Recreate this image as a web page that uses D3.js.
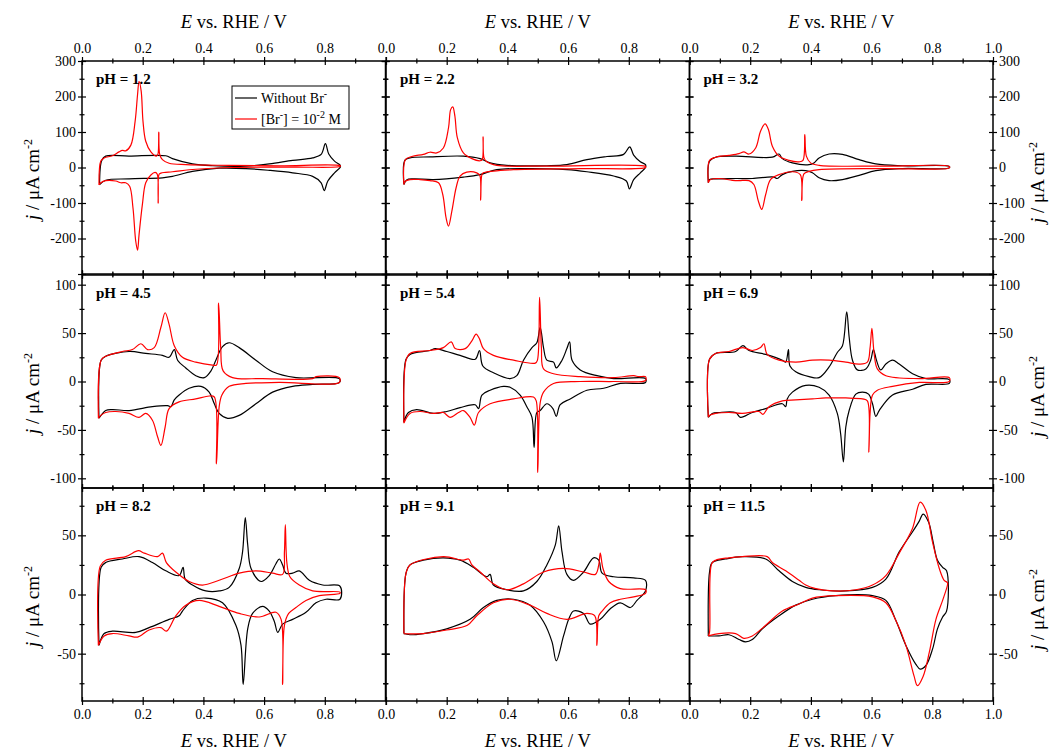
<!DOCTYPE html>
<html>
<head>
<meta charset="utf-8">
<script src="https://cdn.jsdelivr.net/npm/d3@7"></script>
<style>
  body { margin: 0; background: #fff; }
  svg text { font-family: "Liberation Serif", "Times New Roman", serif; fill: #000; }
</style>
</head>
<body>
<div id="chart"></div>
<script>
// CV data: [E (V vs RHE), j (uA cm-2)], anodic sweep then cathodic sweep
var pH12_noBr = [[0.058,-48],[0.065,20],[0.078,32],[0.155,32],[0.276,33],[0.298,25],[0.364,10],[0.43,5],[0.54,4],[0.617,10],[0.694,20],[0.76,27],[0.788,37],[0.802,67],[0.813,38],[0.832,18],[0.851,6],
  [0.851,1],[0.832,-15],[0.81,-38],[0.798,-65],[0.788,-43],[0.76,-25],[0.694,-15],[0.617,-8],[0.54,-3],[0.452,-2],[0.364,-11],[0.298,-25],[0.265,-29],[0.155,-32],[0.078,-36],[0.058,-48]];
var pH12_Br = [[0.056,-49],[0.062,18],[0.073,27],[0.1,33],[0.122,44],[0.133,48],[0.144,47],[0.161,63],[0.175,130],[0.183,205],[0.188,243],[0.195,215],[0.201,130],[0.21,74],[0.227,44],[0.245,32],[0.25,37],[0.253,100],[0.256,37],[0.265,22],[0.287,12],[0.342,8],[0.485,6],[0.65,5],[0.851,5],
  [0.851,3],[0.7,1],[0.5,0],[0.375,-5],[0.298,-12],[0.27,-14],[0.26,-16],[0.254,-19],[0.251,-100],[0.248,-19],[0.241,-14],[0.227,-21],[0.21,-43],[0.199,-104],[0.188,-189],[0.183,-233],[0.177,-207],[0.168,-114],[0.157,-53],[0.144,-43],[0.128,-43],[0.111,-38],[0.078,-37],[0.062,-43],[0.056,-49]];

var pH22_noBr = [[0.059,-48],[0.062,20],[0.079,27],[0.145,30],[0.255,32],[0.31,25],[0.343,13],[0.398,6],[0.53,5],[0.596,8],[0.662,22],[0.728,31],[0.783,37],[0.803,58],[0.816,35],[0.838,16],[0.855,8],
  [0.855,0],[0.838,-15],[0.816,-34],[0.802,-60],[0.792,-38],[0.75,-24],[0.662,-12],[0.596,-6],[0.475,-3],[0.365,-6],[0.31,-20],[0.255,-27],[0.156,-34],[0.09,-32],[0.068,-35],[0.059,-48]];
var pH22_Br = [[0.059,-48],[0.064,22],[0.085,31],[0.123,37],[0.145,43],[0.167,41],[0.189,55],[0.206,112],[0.213,163],[0.22,171],[0.227,145],[0.235,84],[0.255,41],[0.283,25],[0.31,19],[0.317,22],[0.32,86],[0.323,27],[0.332,16],[0.365,6],[0.53,4],[0.855,3],
  [0.855,0],[0.64,-3],[0.42,-6],[0.354,-10],[0.321,-15],[0.316,-20],[0.312,-92],[0.309,-22],[0.299,-15],[0.266,-13],[0.244,-24],[0.231,-57],[0.217,-123],[0.206,-165],[0.198,-142],[0.187,-76],[0.173,-43],[0.145,-37],[0.112,-34],[0.079,-34],[0.063,-39],[0.059,-48]];

var pH32_noBr = [[0.062,-43],[0.066,18],[0.086,29],[0.152,32],[0.273,29],[0.295,38],[0.306,25],[0.339,13],[0.394,8],[0.41,13],[0.427,27],[0.46,38],[0.504,37],[0.559,22],[0.614,10],[0.702,5],[0.856,3],
  [0.856,-1],[0.702,-3],[0.614,-9],[0.559,-22],[0.504,-34],[0.46,-37],[0.427,-29],[0.405,-15],[0.383,-9],[0.339,-11],[0.306,-20],[0.289,-31],[0.278,-27],[0.207,-31],[0.152,-31],[0.086,-32],[0.066,-34],[0.062,-43]];
var pH32_Br = [[0.062,-43],[0.066,20],[0.086,29],[0.13,34],[0.163,39],[0.179,44],[0.196,38],[0.218,55],[0.234,102],[0.249,123],[0.26,107],[0.273,60],[0.295,32],[0.328,20],[0.361,16],[0.374,20],[0.38,93],[0.385,32],[0.399,13],[0.427,6],[0.647,4],[0.856,3],
  [0.856,-1],[0.647,-3],[0.427,-6],[0.394,-11],[0.377,-18],[0.37,-93],[0.365,-20],[0.339,-12],[0.295,-20],[0.267,-34],[0.251,-76],[0.238,-118],[0.227,-95],[0.212,-48],[0.196,-37],[0.163,-37],[0.141,-36],[0.097,-31],[0.069,-34],[0.062,-43]];

var pH45_noBr = [[0.056,-38],[0.063,22],[0.078,26],[0.155,31],[0.21,29],[0.265,27],[0.287,25],[0.304,33],[0.315,22],[0.342,14],[0.375,6],[0.403,4],[0.425,11],[0.441,22],[0.463,36],[0.485,40],[0.518,35],[0.573,22],[0.628,10],[0.705,4],[0.848,3],
  [0.848,-1],[0.76,-3],[0.694,-5],[0.628,-11],[0.573,-23],[0.518,-35],[0.48,-38],[0.452,-33],[0.436,-23],[0.419,-11],[0.392,-5],[0.353,-7],[0.32,-14],[0.304,-19],[0.293,-26],[0.282,-25],[0.232,-26],[0.155,-30],[0.1,-29],[0.078,-30],[0.056,-38]];
var pH45_Br = [[0.054,-38],[0.063,22],[0.078,26],[0.133,31],[0.166,33],[0.194,39],[0.216,33],[0.238,35],[0.26,56],[0.274,71],[0.287,59],[0.304,37],[0.331,25],[0.375,20],[0.43,17],[0.443,17],[0.45,81],[0.457,35],[0.465,11],[0.496,4],[0.595,3],[0.76,3],[0.771,5],[0.848,4],
  [0.848,-1],[0.65,-1],[0.54,-2],[0.485,-5],[0.461,-14],[0.452,-26],[0.443,-85],[0.436,-16],[0.419,-15],[0.375,-18],[0.32,-21],[0.287,-28],[0.274,-47],[0.26,-66],[0.249,-57],[0.232,-40],[0.21,-33],[0.188,-37],[0.155,-33],[0.111,-31],[0.078,-32],[0.062,-35],[0.054,-38]];

var pH54_noBr = [[0.059,-42],[0.066,23],[0.079,28],[0.145,32],[0.162,34],[0.2,31],[0.244,27],[0.294,23],[0.308,32],[0.319,16],[0.354,9],[0.409,3],[0.431,6],[0.453,22],[0.481,35],[0.497,40],[0.508,56],[0.519,35],[0.53,22],[0.552,20],[0.561,14],[0.58,22],[0.596,34],[0.605,41],[0.613,22],[0.64,12],[0.695,6],[0.75,3],[0.855,3],
  [0.855,-1],[0.772,-2],[0.717,-7],[0.662,-9],[0.607,-18],[0.574,-24],[0.561,-36],[0.55,-28],[0.53,-23],[0.508,-30],[0.497,-32],[0.488,-68],[0.481,-37],[0.464,-26],[0.442,-14],[0.409,-6],[0.387,-5],[0.343,-9],[0.316,-14],[0.305,-28],[0.294,-24],[0.244,-27],[0.2,-31],[0.156,-33],[0.101,-29],[0.074,-32],[0.059,-42]];
var pH54_Br = [[0.059,-43],[0.066,22],[0.079,29],[0.145,32],[0.189,35],[0.215,41],[0.228,34],[0.261,34],[0.283,42],[0.297,49],[0.308,44],[0.321,34],[0.354,27],[0.42,22],[0.492,19],[0.499,22],[0.506,87],[0.512,35],[0.519,13],[0.552,8],[0.64,5],[0.75,4],[0.816,6],[0.833,5],[0.855,5],
  [0.855,1],[0.75,0],[0.64,0],[0.552,-2],[0.519,-11],[0.508,-22],[0.5,-94],[0.495,-20],[0.486,-16],[0.42,-18],[0.343,-23],[0.305,-32],[0.291,-45],[0.277,-37],[0.255,-30],[0.239,-32],[0.211,-37],[0.189,-32],[0.156,-33],[0.112,-31],[0.079,-33],[0.059,-43]];

var pH69_noBr = [[0.062,-37],[0.066,23],[0.086,29],[0.152,31],[0.176,37],[0.196,32],[0.251,28],[0.306,22],[0.317,20],[0.326,33],[0.331,16],[0.35,10],[0.394,5],[0.427,4],[0.46,15],[0.487,30],[0.504,37],[0.518,72],[0.526,46],[0.537,22],[0.553,12],[0.581,13],[0.597,22],[0.606,33],[0.616,22],[0.63,12],[0.647,18],[0.669,22],[0.691,18],[0.735,8],[0.779,3],[0.856,2],
  [0.856,-2],[0.779,-3],[0.735,-8],[0.669,-14],[0.625,-30],[0.614,-36],[0.603,-23],[0.59,-13],[0.57,-11],[0.548,-13],[0.526,-30],[0.515,-47],[0.507,-83],[0.498,-54],[0.487,-33],[0.46,-14],[0.427,-6],[0.383,-4],[0.339,-11],[0.322,-18],[0.317,-26],[0.306,-23],[0.251,-28],[0.207,-32],[0.168,-37],[0.152,-32],[0.097,-32],[0.075,-33],[0.062,-37]];
var pH69_Br = [[0.062,-37],[0.066,23],[0.086,29],[0.13,31],[0.176,35],[0.207,32],[0.234,35],[0.245,39],[0.256,28],[0.295,22],[0.35,20],[0.405,22],[0.46,22],[0.515,20],[0.559,18],[0.586,20],[0.595,35],[0.601,55],[0.608,30],[0.619,13],[0.647,6],[0.757,3],[0.856,4],
  [0.856,0],[0.757,-1],[0.669,-5],[0.619,-9],[0.603,-14],[0.595,-33],[0.591,-73],[0.586,-20],[0.57,-18],[0.515,-17],[0.449,-17],[0.405,-18],[0.35,-19],[0.306,-20],[0.262,-26],[0.242,-34],[0.229,-31],[0.174,-33],[0.13,-32],[0.086,-33],[0.066,-35],[0.062,-37]];

var pH82_noBr = [[0.056,-43],[0.063,23],[0.078,27],[0.133,30],[0.188,32],[0.232,27],[0.276,20],[0.32,16],[0.333,23],[0.34,13],[0.364,8],[0.408,3],[0.452,3],[0.485,6],[0.518,22],[0.529,36],[0.538,65],[0.546,42],[0.557,22],[0.59,11],[0.617,16],[0.639,26],[0.65,30],[0.661,25],[0.672,18],[0.694,18],[0.716,20],[0.749,12],[0.793,8],[0.85,7],
  [0.85,-4],[0.804,-4],[0.771,-7],[0.738,-15],[0.694,-21],[0.661,-25],[0.645,-32],[0.634,-23],[0.617,-14],[0.595,-10],[0.562,-16],[0.546,-29],[0.531,-76],[0.524,-43],[0.507,-26],[0.463,-7],[0.408,-3],[0.364,-5],[0.331,-14],[0.32,-18],[0.287,-21],[0.221,-28],[0.177,-32],[0.1,-31],[0.073,-33],[0.056,-43]];
var pH82_Br = [[0.054,-43],[0.06,24],[0.078,29],[0.144,32],[0.186,37],[0.205,35],[0.249,32],[0.265,35],[0.278,27],[0.309,19],[0.353,11],[0.397,8],[0.452,12],[0.518,18],[0.573,20],[0.628,18],[0.661,17],[0.667,36],[0.67,59],[0.675,27],[0.685,15],[0.716,8],[0.76,3],[0.85,2],
  [0.85,1],[0.782,-1],[0.738,-5],[0.705,-11],[0.681,-16],[0.667,-26],[0.661,-76],[0.656,-21],[0.639,-15],[0.584,-19],[0.518,-16],[0.452,-10],[0.386,-5],[0.342,-9],[0.309,-18],[0.278,-31],[0.26,-28],[0.221,-30],[0.183,-36],[0.155,-35],[0.1,-33],[0.073,-35],[0.054,-43]];

var pH91_noBr = [[0.059,-33],[0.066,18],[0.079,25],[0.123,29],[0.189,31],[0.244,29],[0.288,23],[0.332,15],[0.343,17],[0.354,8],[0.398,4],[0.453,3],[0.497,11],[0.53,25],[0.558,42],[0.569,58],[0.58,36],[0.596,17],[0.618,12],[0.651,19],[0.684,31],[0.701,29],[0.712,18],[0.75,15],[0.816,14],[0.855,12],
  [0.855,3],[0.827,-5],[0.805,-11],[0.772,-7],[0.739,-12],[0.706,-21],[0.673,-25],[0.651,-16],[0.618,-14],[0.602,-21],[0.585,-35],[0.561,-56],[0.547,-40],[0.519,-23],[0.475,-9],[0.42,-4],[0.365,-5],[0.321,-11],[0.277,-21],[0.2,-29],[0.123,-33],[0.079,-34],[0.059,-33]];
var pH91_Br = [[0.059,-33],[0.066,18],[0.079,25],[0.189,32],[0.255,29],[0.272,30],[0.283,25],[0.31,19],[0.354,9],[0.398,4],[0.453,9],[0.519,19],[0.585,22],[0.651,19],[0.69,17],[0.701,25],[0.706,35],[0.715,22],[0.734,11],[0.772,5],[0.855,4],
  [0.855,1],[0.816,-2],[0.772,-4],[0.739,-7],[0.712,-14],[0.701,-18],[0.695,-43],[0.688,-18],[0.662,-16],[0.596,-21],[0.53,-16],[0.475,-9],[0.409,-4],[0.354,-7],[0.299,-18],[0.268,-26],[0.2,-30],[0.123,-33],[0.059,-33]];

var pH115_noBr = [[0.062,-35],[0.066,19],[0.075,27],[0.119,30],[0.174,32],[0.251,30],[0.295,20],[0.339,11],[0.383,6],[0.427,4],[0.515,3],[0.603,6],[0.647,13],[0.691,36],[0.735,53],[0.757,62],[0.77,68],[0.788,61],[0.803,44],[0.817,29],[0.834,23],[0.847,20],
  [0.847,-14],[0.834,-19],[0.817,-29],[0.801,-46],[0.779,-60],[0.76,-63],[0.746,-59],[0.713,-43],[0.68,-22],[0.647,-5],[0.603,-1],[0.482,-1],[0.405,-4],[0.35,-9],[0.295,-18],[0.24,-29],[0.207,-38],[0.185,-40],[0.163,-38],[0.13,-34],[0.097,-35],[0.062,-35]];
var pH115_Br = [[0.062,-35],[0.066,-32],[0.073,26],[0.086,29],[0.13,31],[0.174,32],[0.256,32],[0.273,27],[0.317,20],[0.361,12],[0.383,8],[0.416,5],[0.471,3],[0.548,4],[0.603,8],[0.647,16],[0.691,35],[0.735,56],[0.76,78],[0.779,71],[0.801,44],[0.823,22],[0.839,12],[0.85,10],
  [0.85,8],[0.834,-5],[0.812,-21],[0.79,-49],[0.77,-69],[0.751,-77],[0.74,-69],[0.713,-43],[0.68,-22],[0.647,-7],[0.603,-2],[0.482,-1],[0.405,-3],[0.361,-8],[0.306,-14],[0.251,-26],[0.207,-35],[0.179,-37],[0.152,-33],[0.097,-33],[0.062,-35]];

var phLabels = ["1.2", "2.2", "3.2", "4.5", "5.4", "6.9", "8.2", "9.1", "11.5"];
var noBrSeries = [pH12_noBr, pH22_noBr, pH32_noBr, pH45_noBr, pH54_noBr, pH69_noBr, pH82_noBr, pH91_noBr, pH115_noBr];
var brSeries = [pH12_Br, pH22_Br, pH32_Br, pH45_Br, pH54_Br, pH69_Br, pH82_Br, pH91_Br, pH115_Br];

// axis ranges and ticks per row
var yDomains = [[-300, 300], [-110, 110], [-90, 90]];
var yMajorTicks = [[-300, -200, -100, 0, 100, 200, 300], [-100, -50, 0, 50, 100], [-50, 0, 50]];
var yMinorTicks = [[-250, -150, -50, 50, 150, 250], [-75, -25, 25, 75], [-75, -25, 25, 75]];
var yTickLabels = [[-200, -100, 0, 100, 200, 300], [-100, -50, 0, 50, 100], [-50, 0, 50]];
var xMajorTicks = [0, 0.2, 0.4, 0.6, 0.8, 1.0];
var xMinorTicks = [0.1, 0.3, 0.5, 0.7, 0.9];
var xTickLabelsShort = [0, 0.2, 0.4, 0.6, 0.8];

// layout
var svgWidth = 1058, svgHeight = 751;
var colX = [82, 386, 689.5];
var colW = 303.5;
var rowY = [61, 275, 488];
var rowH = 213;

var svg = d3.select("#chart")
  .append("svg")
  .attr("width", svgWidth)
  .attr("height", svgHeight);

// draws ticks that cross the frame line (in and out)
function crossTicks(g, axis, values, size) {
  g.call(axis.tickValues(values).tickSize(size).tickSizeOuter(0).tickFormat(""));
  g.select(".domain").remove();
  g.selectAll(".tick line").each(function() {
    var l = d3.select(this);
    ["x2", "y2"].forEach(function(k) {
      var v = +l.attr(k);
      if (v) l.attr(k[0] + "1", -v);
    });
  }).attr("stroke", "#000").attr("stroke-width", 1.2);
  g.selectAll("text").remove();
}

function tickLabels(g, axis, values, fmt, pad) {
  g.call(axis.tickValues(values).tickSize(0).tickPadding(pad).tickFormat(fmt));
  g.select(".domain").remove();
  g.selectAll(".tick line").remove();
  g.attr("font-family", null).attr("font-size", 14);
}

var fmtE = d3.format(".1f");
var fmtJ = function(d) { return String(d); };
var yTitle = '<tspan font-style="italic">j</tspan> / \u03bcA cm<tspan dy="-7" font-size="12">-2</tspan>';
var xTitle = '<tspan font-style="italic">E</tspan> vs. RHE / V';

phLabels.forEach(function(ph, i) {
  var row = Math.floor(i / 3), col = i % 3;
  var x0 = colX[col], y0 = rowY[row];

  var xScale = d3.scaleLinear().domain([0, 1]).range([x0, x0 + colW]);
  var yScale = d3.scaleLinear().domain(yDomains[row]).range([y0 + rowH, y0]);

  var panel = svg.append("g");

  var line = d3.line()
    .x(function(d) { return xScale(d[0]); })
    .y(function(d) { return yScale(d[1]); })
    .curve(d3.curveCatmullRom.alpha(0.5));

  panel.append("path")
    .datum(noBrSeries[i])
    .attr("d", line)
    .attr("fill", "none")
    .attr("stroke", "#000")
    .attr("stroke-width", 1.2);

  panel.append("path")
    .datum(brSeries[i])
    .attr("d", line)
    .attr("fill", "none")
    .attr("stroke", "#ff0000")
    .attr("stroke-width", 1.2);

  // frame
  panel.append("rect")
    .attr("x", x0).attr("y", y0)
    .attr("width", colW).attr("height", rowH)
    .attr("fill", "none")
    .attr("stroke", "#000")
    .attr("stroke-width", 1.5);

  // ticks on all four sides
  crossTicks(panel.append("g").attr("transform", "translate(0," + (y0 + rowH) + ")"), d3.axisBottom(xScale), xMajorTicks, 4);
  crossTicks(panel.append("g").attr("transform", "translate(0," + (y0 + rowH) + ")"), d3.axisBottom(xScale), xMinorTicks, 2.5);
  crossTicks(panel.append("g").attr("transform", "translate(0," + y0 + ")"), d3.axisTop(xScale), xMajorTicks, 4);
  crossTicks(panel.append("g").attr("transform", "translate(0," + y0 + ")"), d3.axisTop(xScale), xMinorTicks, 2.5);
  crossTicks(panel.append("g").attr("transform", "translate(" + x0 + ",0)"), d3.axisLeft(yScale), yMajorTicks[row], 4);
  crossTicks(panel.append("g").attr("transform", "translate(" + x0 + ",0)"), d3.axisLeft(yScale), yMinorTicks[row], 2.5);
  crossTicks(panel.append("g").attr("transform", "translate(" + (x0 + colW) + ",0)"), d3.axisRight(yScale), yMajorTicks[row], 4);
  crossTicks(panel.append("g").attr("transform", "translate(" + (x0 + colW) + ",0)"), d3.axisRight(yScale), yMinorTicks[row], 2.5);

  var xLabelVals = col === 2 ? xMajorTicks : xTickLabelsShort;
  if (row === 0) {
    tickLabels(panel.append("g").attr("transform", "translate(0," + y0 + ")"), d3.axisTop(xScale), xLabelVals, fmtE, 8);
    panel.append("text")
      .attr("x", x0 + colW / 2).attr("y", 28)
      .attr("text-anchor", "middle")
      .attr("font-size", 18.5)
      .html(xTitle);
  }
  if (row === 2) {
    tickLabels(panel.append("g").attr("transform", "translate(0," + (y0 + rowH) + ")"), d3.axisBottom(xScale), xLabelVals, fmtE, 8);
    panel.append("text")
      .attr("x", x0 + colW / 2).attr("y", 747)
      .attr("text-anchor", "middle")
      .attr("font-size", 18.5)
      .html(xTitle);
  }
  if (col === 0) {
    tickLabels(panel.append("g").attr("transform", "translate(" + x0 + ",0)"), d3.axisLeft(yScale), yTickLabels[row], fmtJ, 6);
    panel.append("text")
      .attr("transform", "translate(39," + (y0 + rowH / 2 + 12) + ") rotate(-90)")
      .attr("text-anchor", "middle")
      .attr("font-size", 19)
      .html(yTitle);
  }
  if (col === 2) {
    tickLabels(panel.append("g").attr("transform", "translate(" + (x0 + colW) + ",0)"), d3.axisRight(yScale), yTickLabels[row], fmtJ, 6);
    panel.append("text")
      .attr("transform", "translate(1044," + (y0 + rowH / 2 + 15) + ") rotate(-90)")
      .attr("text-anchor", "middle")
      .attr("font-size", 19)
      .html(yTitle);
  }

  // pH label
  panel.append("text")
    .attr("x", x0 + 14).attr("y", y0 + 23)
    .attr("font-size", 15)
    .attr("font-weight", "bold")
    .text("pH = " + ph);
});

// legend in the first panel
var legend = svg.append("g");
legend.append("rect")
  .attr("x", 232).attr("y", 86).attr("width", 117).attr("height", 43)
  .attr("fill", "#fff").attr("stroke", "#000").attr("stroke-width", 1);
legend.append("line")
  .attr("x1", 235).attr("x2", 257).attr("y1", 98).attr("y2", 98)
  .attr("stroke", "#000").attr("stroke-width", 1.2);
legend.append("text")
  .attr("x", 261).attr("y", 103).attr("font-size", 14)
  .html('Without Br<tspan dy="-6" font-size="10">-</tspan>');
legend.append("line")
  .attr("x1", 235).attr("x2", 257).attr("y1", 119).attr("y2", 119)
  .attr("stroke", "#ff0000").attr("stroke-width", 1.2);
legend.append("text")
  .attr("x", 261).attr("y", 124).attr("font-size", 14)
  .html('[Br<tspan dy="-6" font-size="10">-</tspan><tspan dy="6">] = 10</tspan><tspan dy="-6" font-size="10">-2</tspan><tspan dy="6"> M</tspan>');
</script>
</body>
</html>
